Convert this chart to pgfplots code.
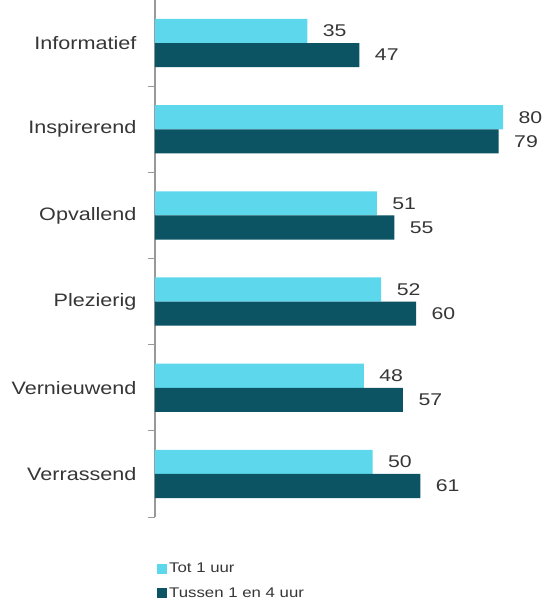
\documentclass[border=0pt]{standalone}
\usepackage{pgfplots}
\pgfplotsset{compat=1.18}
\usepackage{fontspec}
\setmainfont{Liberation Sans}
\definecolor{cyanbar}{HTML}{5DD7EB}
\definecolor{tealbar}{HTML}{0C5363}
\definecolor{txt}{HTML}{363636}
\newcommand{\sx}[2][1.2]{\scalebox{#1}[1]{#2}}
\begin{document}
\begin{tikzpicture}[x=1pt,y=1pt]
\begin{axis}[
  name=ax,
  at={(0,0)}, anchor=south west,
  scale only axis,
  width=385pt, height=517pt,
  xmin=0, xmax=88.5,
  ymin=-0.5, ymax=5.5,
  y dir=reverse,
  axis x line=none,
  axis y line*=left,
  y axis line style={draw=black!40, line width=1.1pt},
  xbar, bar width=0.28,
  ytick={0,...,5},
  yticklabels={\sx{Informatief},\sx{Inspirerend},\sx{Opvallend},\sx{Plezierig},\sx{Vernieuwend},\sx{Verrassend}},
  major tick length=0pt,
  minor ytick={0.5,1.5,...,5.5},
  minor tick length=7pt,
  tick align=outside,
  minor tick style={draw=black!40, line width=1pt},
  yticklabel style={font=\fontsize{18}{20}\selectfont, text=txt, xshift=-15pt},
  clip=false,
  nodes near coords={\sx[1.25]{\pgfmathprintnumber{\pgfplotspointmeta}}},
  nodes near coords style={font=\fontsize{17}{20}\selectfont, text=txt, xshift=12pt},
  /pgf/number format/assume math mode=true,
  legend style={at={(0,0)}, anchor=north west, draw=none, fill=none,
    font=\fontsize{14}{16}\selectfont, text=txt, yshift=-44pt, xshift=2pt,
    row sep=9.5pt, inner sep=0pt},
  legend cell align=left,
]
\addplot[draw=none, fill=cyanbar, bar shift=-0.14,
  legend image code/.code={\fill[cyanbar] (0pt,-5pt) rectangle (10pt,5pt);}]
  coordinates {(35,0) (80,1) (51,2) (52,3) (48,4) (50,5)};
\addplot[draw=none, fill=tealbar, bar shift=0.14,
  legend image code/.code={\fill[tealbar] (0pt,-5pt) rectangle (10pt,5pt);}]
  coordinates {(47,0) (79,1) (55,2) (60,3) (57,4) (61,5)};
\legend{\sx{Tot 1 uur},\sx{Tussen 1 en 4 uur}}
\end{axis}
\pgfresetboundingbox
\path ([xshift=-155pt,yshift=-84pt]ax.south west) rectangle ([xshift=390pt]ax.north west);
\end{tikzpicture}
\end{document}
